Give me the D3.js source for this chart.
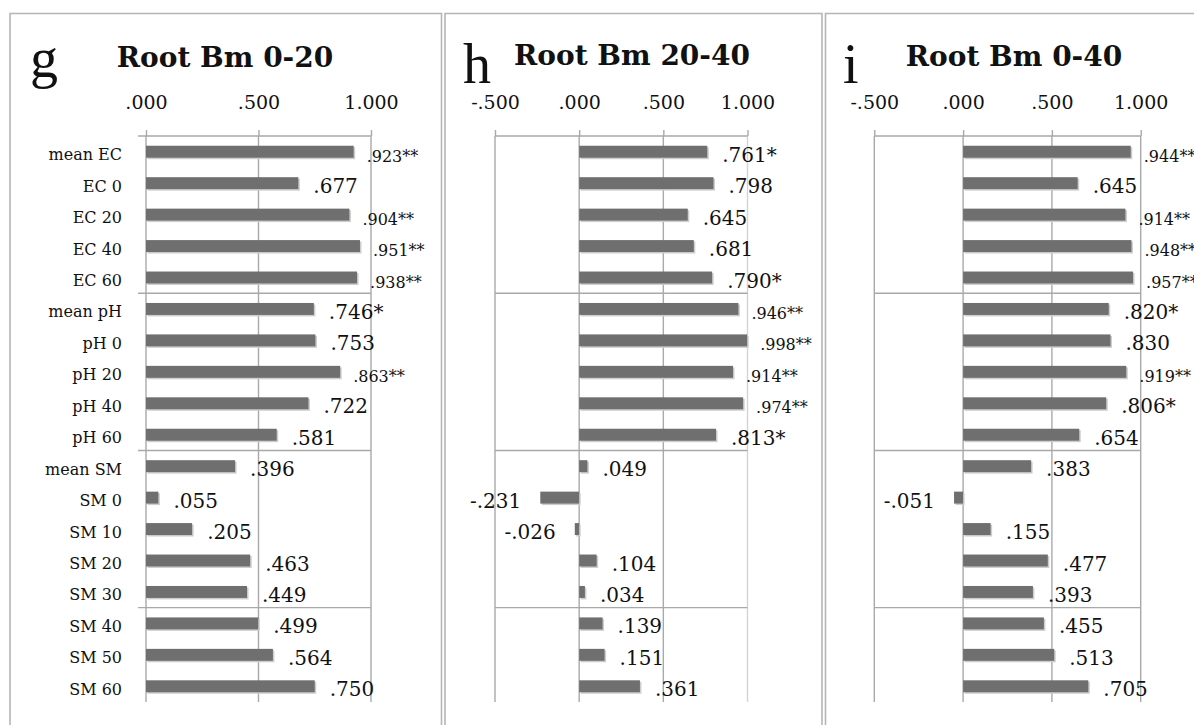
<!DOCTYPE html>
<html>
<head>
<meta charset="utf-8">
<script src="https://cdn.jsdelivr.net/npm/d3@7"></script>
<style>
  body { margin: 0; background: #fff; }
  svg { display: block; }
</style>
</head>
<body>
<svg id="chart" width="1194" height="725"></svg>
<script>
// Correlation of root biomass with soil EC, pH and soil moisture
const categories = ["mean EC", "EC 0", "EC 20", "EC 40", "EC 60",
                    "mean pH", "pH 0", "pH 20", "pH 40", "pH 60",
                    "mean SM", "SM 0", "SM 10", "SM 20", "SM 30",
                    "SM 40", "SM 50", "SM 60"];

const rootBm0to20  = [0.923, 0.677, 0.904, 0.951, 0.938, 0.746, 0.753, 0.863, 0.722, 0.581,
                      0.396, 0.055, 0.205, 0.463, 0.449, 0.499, 0.564, 0.750];
const sig0to20     = ["**", "", "**", "**", "**", "*", "", "**", "", "",
                      "", "", "", "", "", "", "", ""];

const rootBm20to40 = [0.761, 0.798, 0.645, 0.681, 0.790, 0.946, 0.998, 0.914, 0.974, 0.813,
                      0.049, -0.231, -0.026, 0.104, 0.034, 0.139, 0.151, 0.361];
const sig20to40    = ["*", "", "", "", "*", "**", "**", "**", "**", "*",
                      "", "", "", "", "", "", "", ""];

const rootBm0to40  = [0.944, 0.645, 0.914, 0.948, 0.957, 0.820, 0.830, 0.919, 0.806, 0.654,
                      0.383, -0.051, 0.155, 0.477, 0.393, 0.455, 0.513, 0.705];
const sig0to40     = ["**", "", "**", "**", "**", "*", "", "**", "*", "",
                      "", "", "", "", "", "", "", ""];

const ticksPositive = [0, 0.5, 1];
const ticksSigned   = [-0.5, 0, 0.5, 1];

// first category of each new group gets a divider above it
const groupStarts = ["mean pH", "mean SM", "SM 40"];

// ---------------------------------------------------------------
const SERIF = "'DejaVu Serif', serif";
const svg = d3.select("#chart");
svg.append("rect").attr("width", 1194).attr("height", 725).attr("fill", "#fff");

const y = d3.scaleBand()
  .domain(categories)
  .range([136, 702])
  .paddingInner(0.62)
  .paddingOuter(0.31);

const yTop = y.range()[0], yBottom = y.range()[1];
const gap = y.step() - y.bandwidth();

const panels = [
  { letter: "g", title: "Root Bm 0-20", values: rootBm0to20, sig: sig0to20,
    ticks: ticksPositive, domain: [0, 1], range: [146, 371],
    frame: [10, 441.5], letterAt: [30, 77], titleAt: [225, 66.5],
    categoryLabels: true, ruleOverhang: 8, edge: "#a9a9a9" },
  { letter: "h", title: "Root Bm 20-40", values: rootBm20to40, sig: sig20to40,
    ticks: ticksSigned, domain: [-0.5, 1], range: [495, 747.5],
    frame: [445, 822], letterAt: [463, 83], titleAt: [632, 65],
    categoryLabels: false, ruleOverhang: 0, edge: "#d4d4d4" },
  { letter: "i", title: "Root Bm 0-40", values: rootBm0to40, sig: sig0to40,
    ticks: ticksSigned, domain: [-0.5, 1], range: [874.3, 1140.7],
    frame: [825.5, 1200], letterAt: [843, 83], titleAt: [1014, 66],
    categoryLabels: false, ruleOverhang: 0, edge: "#a9a9a9" }
];

// three decimals, leading zero dropped, plain hyphen for negatives
const locale = d3.formatLocale({ decimal: ".", thousands: ",", grouping: [3], currency: ["", ""], minus: "-" });
const fmt3 = locale.format(".3f");
const fmt = v => fmt3(v).replace(/^(-?)0\./, "$1.");

panels.forEach(p => {
  const g = svg.append("g");
  const x = d3.scaleLinear().domain(p.domain).range(p.range);

  // panel frame
  const frame = g.append("g").attr("stroke", "#b5b5b5").attr("stroke-width", 1.6).attr("fill", "none");
  frame.append("path").attr("d", `M${p.frame[0]},725V13.5H${p.frame[1]}V725`);

  // panel letter and title
  g.append("text")
    .attr("x", p.letterAt[0]).attr("y", p.letterAt[1])
    .attr("font-family", "'Liberation Serif', serif")
    .attr("font-size", 56).attr("fill", "#111")
    .text(p.letter);
  g.append("text")
    .attr("x", p.titleAt[0]).attr("y", p.titleAt[1])
    .attr("text-anchor", "middle")
    .attr("font-family", SERIF).attr("font-weight", "bold")
    .attr("font-size", 28).attr("fill", "#111")
    .text(p.title);

  // top value axis with tick labels
  const axis = d3.axisTop(x)
    .tickValues(p.ticks)
    .tickFormat(fmt)
    .tickSize(6)
    .tickPadding(21);
  const ax = g.append("g").attr("transform", `translate(0,${yTop})`).call(axis);
  ax.select(".domain").remove();
  ax.selectAll(".tick line").attr("stroke", "#a9a9a9").attr("stroke-width", 1.4);
  ax.selectAll(".tick text")
    .attr("font-family", SERIF).attr("font-size", 19).attr("fill", "#111");

  // vertical gridlines
  g.append("g").selectAll("line").data(p.ticks).join("line")
    .attr("x1", d => x(d)).attr("x2", d => x(d))
    .attr("y1", yTop).attr("y2", yBottom)
    .attr("stroke", (d, i) => i === p.ticks.length - 1 ? p.edge : "#a9a9a9")
    .attr("stroke-width", 1.4);

  // top rule and group dividers
  const rules = [yTop].concat(groupStarts.map(c => y(c) - gap / 2));
  g.append("g").selectAll("line").data(rules).join("line")
    .attr("x1", x(p.domain[0]) - p.ruleOverhang).attr("x2", x(p.domain[1]))
    .attr("y1", d => d).attr("y2", d => d)
    .attr("stroke", "#a9a9a9").attr("stroke-width", 1.4);

  const rows = categories.map((c, i) => ({ cat: c, v: p.values[i], s: p.sig[i] }));

  // bars: soft shadow then solid bar
  const bars = g.append("g");
  bars.selectAll("rect.shadow").data(rows).join("rect")
    .attr("class", "shadow")
    .attr("x", d => Math.min(x(0), x(d.v)) + 1.5)
    .attr("y", d => y(d.cat) + 1.5)
    .attr("width", d => Math.abs(x(d.v) - x(0)))
    .attr("height", y.bandwidth())
    .attr("fill", "#cdcdcd");
  bars.selectAll("rect.bar").data(rows).join("rect")
    .attr("class", "bar")
    .attr("x", d => Math.min(x(0), x(d.v)))
    .attr("y", d => y(d.cat))
    .attr("width", d => Math.abs(x(d.v) - x(0)))
    .attr("height", y.bandwidth())
    .attr("fill", "#6f6f6f");

  // value labels with significance marks
  g.append("g").selectAll("text").data(rows).join("text")
    .attr("x", d => d.v < 0 ? x(d.v) - 19 : x(d.v) + (d.s === "**" ? 13 : 15))
    .attr("y", d => y(d.cat) + y.bandwidth() / 2 + 10)
    .attr("text-anchor", d => d.v < 0 ? "end" : "start")
    .attr("font-family", SERIF)
    .attr("font-size", d => d.s === "**" ? 16 : 20)
    .attr("fill", "#111")
    .text(d => fmt(d.v) + d.s);

  // category labels (shared by all panels, drawn once)
  if (p.categoryLabels) {
    g.append("g").selectAll("text").data(categories).join("text")
      .attr("x", 122)
      .attr("y", c => y(c) + y.bandwidth() / 2 + 8.5)
      .attr("text-anchor", "end")
      .attr("font-family", SERIF).attr("font-size", 16).attr("fill", "#111")
      .text(c => c);
  }
});
</script>
</body>
</html>
